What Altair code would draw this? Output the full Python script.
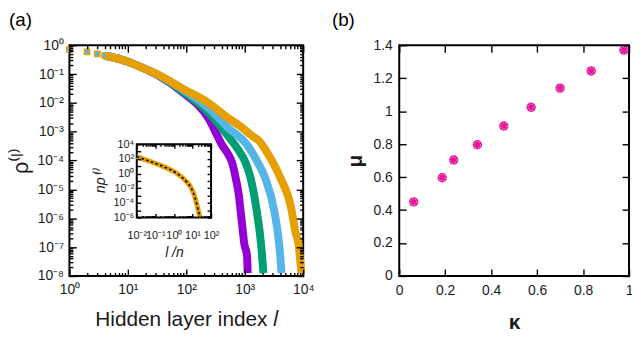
import json
import altair as alt
import pandas as pd

# ---------------- data: panel (a), main plot ----------------
L_PURPLE = [1, 2, 3, 4, 5, 6, 7, 8, 9, 10, 16, 34, 85, 240, 410, 528, 603, 692, 794, 851, 912, 977, 1096, 1122]
RHO_PURPLE = [0.72, 0.59, 0.50, 0.44, 0.40, 0.363, 0.339, 0.309, 0.288, 0.269, 0.182, 0.087, 0.024, 2.9e-3,
              3.5e-4, 1.58e-4, 8.9e-5, 2.8e-5, 6.3e-6, 1.78e-6, 5.0e-7, 1.41e-7, 5.0e-8, 1.26e-8]
L_GREEN = [1, 2, 3, 4, 5, 6, 7, 8, 9, 10, 16, 34, 85, 240, 525, 795, 1000, 1260, 1620, 1905, 2090]
RHO_GREEN = [0.72, 0.59, 0.50, 0.44, 0.40, 0.363, 0.339, 0.309, 0.288, 0.269, 0.182, 0.089, 0.026, 4.6e-3,
             6.9e-4, 2.2e-4, 1.0e-4, 2.5e-5, 1.6e-6, 1.26e-7, 1.26e-8]
L_BLUE = [1, 2, 3, 4, 5, 6, 7, 8, 9, 10, 16, 34, 85, 240, 525, 1100, 1710, 2240, 3240, 3890, 4270]
RHO_BLUE = [0.72, 0.59, 0.50, 0.44, 0.40, 0.363, 0.339, 0.309, 0.288, 0.269, 0.182, 0.091, 0.030, 6.6e-3,
            1.35e-3, 3.5e-4, 7.9e-5, 2.5e-5, 1.6e-6, 1.26e-7, 1.26e-8]
L_ORANGE = [1, 2, 3, 4, 5, 6, 7, 8, 9, 10, 16, 34, 85, 240, 525, 890, 1260, 1820, 2820, 3980, 6170, 7410, 8320, 9330]
RHO_ORANGE = [0.72, 0.59, 0.50, 0.44, 0.40, 0.363, 0.339, 0.309, 0.288, 0.269, 0.182, 0.093, 0.032, 0.010,
              2.95e-3, 1.41e-3, 7.9e-4, 4.5e-4, 1.12e-4, 2.8e-5, 2.5e-6, 3.2e-7, 1.26e-7, 1.26e-8]

# ---------------- data: panel (a), inset (collapsed curves + fit) ----------------
INSET_X = [0.0102, 0.055, 0.278, 1.41, 4.75, 8.7, 13.2, 17.4, 22.4, 26.3]
INSET_Y = [204, 42.7, 8.9, 1.12, 0.079, 0.010, 7.2e-4, 5.4e-5, 4.0e-6, 1.0e-6]
FIT_X = [0.0102, 0.055, 0.278, 1.41, 4.75, 8.7, 13.2, 17.4, 22.4, 26.3]
FIT_Y = [204, 42.7, 8.9, 1.12, 0.079, 0.010, 7.2e-4, 5.4e-5, 4.0e-6, 1.0e-6]

# ---------------- data: panel (b) ----------------
KAPPA = [0.063, 0.187, 0.237, 0.34, 0.455, 0.574, 0.70, 0.835, 0.978]
MU = [0.45, 0.596, 0.704, 0.796, 0.91, 1.024, 1.14, 1.244, 1.37]

# ---------------- tick labels ----------------
MAIN_X_LABELS = ["10⁰", "10¹", "10²", "10³", "10⁴"]
MAIN_Y_LABELS = ["10⁻⁸", "10⁻⁷", "10⁻⁶", "10⁻⁵", "10⁻⁴", "10⁻³", "10⁻²", "10⁻¹", "10⁰"]
INSET_X_LABELS = ["10⁻²", "10⁻¹", "10⁰", "10¹", "10²"]
INSET_Y_LABELS = ["10⁻⁶", "10⁻⁴", "10⁻²", "10⁰", "10²", "10⁴"]
B_X_LABELS = ["0", "0.2", "0.4", "0.6", "0.8", "1"]
B_Y_LABELS = ["0", "0.2", "0.4", "0.6", "0.8", "1", "1.2", "1.4"]

# ---------------- layout / style ----------------
FONT = "Liberation Sans"
W, H = 565, 233
PA = dict(l=0, r=236, t=0, b=233)
PI = dict(l=68, r=143, t=100, b=174)
PB = dict(l=333, r=565, t=0, b=233)
MAJ, MINR = 7, 3.5
IMAJ, IMIN = 4, 2
COL = dict(purple="#9400d3", green="#009e73", blue="#56b4e9", orange="#e69f00")
MAG = "#e3159a"


def decades(lo, hi):
    return [10.0 ** e for e in range(lo, hi + 1)]


def minors(lo, hi):
    return [k * 10.0 ** e for e in range(lo, hi) for k in range(2, 10)]


MX = alt.Scale(type="log", domain=[1, 1e4], range=[PA["l"], PA["r"]], nice=False)
MY = alt.Scale(type="log", domain=[1e-8, 1], range=[PA["b"], PA["t"]], nice=False)
IX = alt.Scale(type="log", domain=[1e-2, 1e2], range=[PI["l"], PI["r"]], nice=False)
IY = alt.Scale(type="log", domain=[1e-6, 1e4], range=[PI["b"], PI["t"]], nice=False)
BX = alt.Scale(domain=[0, 1], range=[PB["l"], PB["r"]], nice=False, zero=False)
BY = alt.Scale(domain=[0, 1.4], range=[PB["b"], PB["t"]], nice=False, zero=False)


def ax(orient, panel, size, values, **kw):
    if orient == "bottom":
        off = panel["b"] - size - H
    elif orient == "top":
        off = -(panel["t"] + size)
    elif orient == "left":
        off = -(panel["l"] + size)
    else:
        off = panel["r"] - size - W
    base = dict(orient=orient, offset=off, tickSize=size, values=values, domain=False, grid=False,
                ticks=True, tickColor="black", tickWidth=1.4, labels=False, title=None,
                labelOverlap=False, labelFlush=False, zindex=1,
                labelFont=FONT, labelColor="#1a1a1a", titleFont=FONT, titleColor="#1a1a1a",
                titleFontWeight="normal")
    base.update(kw)
    return alt.Axis(**base)


def log_expr(labels, shift, step=1):
    return json.dumps(labels, ensure_ascii=False) + \
        "[(round(log(datum.value)/LN10)+%d)/%d]" % (shift, step)


def lin_expr(labels, mult):
    return json.dumps(labels, ensure_ascii=False) + "[round(datum.value*%g)]" % mult


def frame(xs, ys, xdom, ydom, xaxis, yaxis, visible=False, fill=None):
    df = pd.DataFrame({"x0": [xdom[0]], "x1": [xdom[1]], "y0": [ydom[0]], "y1": [ydom[1]]})
    if visible:
        kw = dict(stroke="black", strokeWidth=2)
        if fill:
            kw["fill"] = fill
        else:
            kw["filled"] = False
        m = alt.Chart(df).mark_rect(**kw)
    else:
        m = alt.Chart(df).mark_rect(opacity=0)
    return m.encode(
        x=alt.X("x0:Q", scale=xs, axis=xaxis), x2="x1:Q",
        y=alt.Y("y0:Q", scale=ys, axis=yaxis), y2="y1:Q",
    )


layers = []

# ---- panel (a) main frame and axes ----
layers.append(frame(
    MX, MY, [1, 1e4], [1e-8, 1],
    ax("bottom", PA, MAJ, decades(0, 4), labels=True, labelExpr=log_expr(MAIN_X_LABELS, 0),
       labelFontSize=14, labelPadding=7, title="Hidden layer index 𝑙", titleFontSize=21,
       titlePadding=12),
    ax("left", PA, MAJ, decades(-8, 0), labels=True, labelExpr=log_expr(MAIN_Y_LABELS, 8),
       labelFontSize=14, labelPadding=6, title="ρ⁽ˡ⁾", titleFontSize=22, titlePadding=5),
    visible=True))
layers.append(frame(MX, MY, [1, 1e4], [1e-8, 1],
                    ax("bottom", PA, MINR, minors(0, 4)), ax("left", PA, MINR, minors(-8, 0))))
layers.append(frame(MX, MY, [1, 1e4], [1e-8, 1],
                    ax("top", PA, MAJ, decades(0, 4)), ax("right", PA, MAJ, decades(-8, 0))))
layers.append(frame(MX, MY, [1, 1e4], [1e-8, 1],
                    ax("top", PA, MINR, minors(0, 4)), ax("right", PA, MINR, minors(-8, 0))))

# ---- panel (a) data ----
series = [("purple", L_PURPLE, RHO_PURPLE), ("green", L_GREEN, RHO_GREEN),
          ("blue", L_BLUE, RHO_BLUE), ("orange", L_ORANGE, RHO_ORANGE)]
for name, L, R in series:
    df = pd.DataFrame({"l": L, "rho": R, "i": list(range(len(L)))})
    layers.append(
        alt.Chart(df).mark_line(color=COL[name], strokeWidth=8, strokeJoin="round", interpolate="monotone")
        .transform_filter("datum.l >= 4")
        .encode(x=alt.X("l:Q", scale=MX, axis=None), y=alt.Y("rho:Q", scale=MY, axis=None),
                order=alt.Order("i:Q"))
    )
df_o = pd.DataFrame({"l": L_ORANGE, "rho": RHO_ORANGE})
df_b = pd.DataFrame({"l": L_BLUE, "rho": RHO_BLUE})
layers.append(
    alt.Chart(df_o).mark_square(color=COL["orange"], size=46, opacity=1)
    .transform_filter("datum.l <= 5")
    .encode(x=alt.X("l:Q", scale=MX, axis=None), y=alt.Y("rho:Q", scale=MY, axis=None))
)
layers.append(
    alt.Chart(df_b).mark_square(color=COL["blue"], size=14, opacity=1)
    .transform_filter("datum.l <= 4")
    .encode(x=alt.X("l:Q", scale=MX, axis=None), y=alt.Y("rho:Q", scale=MY, axis=None))
)

# ---- inset ----
layers.append(frame(
    IX, IY, [1e-2, 1e2], [1e-6, 1e4],
    ax("bottom", PI, IMAJ, decades(-2, 2), labels=True, labelExpr=log_expr(INSET_X_LABELS, 2),
       labelFontSize=11, labelPadding=12, title="l /n", titleFontSize=14, titleFontStyle="italic",
       titlePadding=5),
    ax("left", PI, IMAJ, decades(-6, 4)[::2], labels=True, labelExpr=log_expr(INSET_Y_LABELS, 6, 2),
       labelFontSize=11, labelPadding=3, title="nρ⁽ˡ⁾", titleFontSize=14, titleFontStyle="italic",
       titlePadding=6),
    visible=True, fill="white"))
layers.append(frame(IX, IY, [1e-2, 1e2], [1e-6, 1e4],
                    ax("bottom", PI, IMIN, minors(-2, 2)), ax("left", PI, IMAJ, decades(-5, 3)[::2])))
layers.append(frame(IX, IY, [1e-2, 1e2], [1e-6, 1e4],
                    ax("top", PI, IMAJ, decades(-2, 2)), ax("right", PI, IMAJ, decades(-6, 4))))
layers.append(frame(IX, IY, [1e-2, 1e2], [1e-6, 1e4],
                    ax("top", PI, IMIN, minors(-2, 2)), None))
df_in = pd.DataFrame({"x": INSET_X, "y": INSET_Y, "i": list(range(len(INSET_X)))})
df_fit = pd.DataFrame({"x": FIT_X, "y": FIT_Y, "i": list(range(len(FIT_X)))})
layers.append(
    alt.Chart(df_in).mark_line(color=COL["orange"], strokeWidth=5, interpolate="monotone")
    .encode(x=alt.X("x:Q", scale=IX, axis=None), y=alt.Y("y:Q", scale=IY, axis=None), order="i:Q")
)
layers.append(
    alt.Chart(df_fit).mark_line(color="black", strokeWidth=1.6, strokeDash=[2.5, 2.5], interpolate="monotone")
    .encode(x=alt.X("x:Q", scale=IX, axis=None), y=alt.Y("y:Q", scale=IY, axis=None), order="i:Q")
)

# ---- panel (b) ----
layers.append(frame(
    BX, BY, [0, 1], [0, 1.4],
    ax("bottom", PB, MAJ, [0, 0.2, 0.4, 0.6, 0.8, 1.0], labels=True, labelExpr=lin_expr(B_X_LABELS, 5),
       labelFontSize=14, labelPadding=8, title="κ", titleFontSize=21, titleFontWeight="bold",
       titlePadding=14),
    ax("left", PB, MAJ, [0, 0.2, 0.4, 0.6, 0.8, 1.0, 1.2, 1.4], labels=True, labelExpr=lin_expr(B_Y_LABELS, 5),
       labelFontSize=14, labelPadding=7, title="μ", titleFontSize=21, titleFontWeight="bold",
       titlePadding=8),
    visible=True))
layers.append(frame(BX, BY, [0, 1], [0, 1.4],
                    ax("top", PB, MAJ, [0, 0.2, 0.4, 0.6, 0.8, 1.0]),
                    ax("right", PB, MAJ, [0, 0.2, 0.4, 0.6, 0.8, 1.0, 1.2, 1.4])))
df_k = pd.DataFrame({"k": KAPPA, "mu": MU})
layers.append(
    alt.Chart(df_k).mark_circle(color=MAG, size=90, opacity=1)
    .encode(x=alt.X("k:Q", scale=BX, axis=None), y=alt.Y("mu:Q", scale=BY, axis=None))
)
layers.append(
    alt.Chart(df_k).mark_point(shape="circle", size=42, filled=False, stroke="#f7a6d6",
                               strokeWidth=0.9, strokeDash=[1.5, 1.2], opacity=1)
    .encode(x=alt.X("k:Q", scale=BX, axis=None), y=alt.Y("mu:Q", scale=BY, axis=None))
)

# ---- panel letters ----
dummy = pd.DataFrame({"a": [0]})
layers.append(alt.Chart(dummy).mark_text(font=FONT, fontSize=19, align="left", baseline="middle", color="black")
              .encode(x=alt.value(-61), y=alt.value(-25), text=alt.value("(a)")))
layers.append(alt.Chart(dummy).mark_text(font=FONT, fontSize=19, align="left", baseline="middle", color="black")
              .encode(x=alt.value(265), y=alt.value(-25), text=alt.value("(b)")))

chart = alt.layer(*layers).resolve_scale(x="independent", y="independent").properties(
    width=W, height=H, autosize="none",
    padding={"left": 62, "top": 36, "right": 3, "bottom": 61},
).configure_view(strokeWidth=0)

chart.save("out.html", embed_options={"renderer": "svg", "actions": False})
